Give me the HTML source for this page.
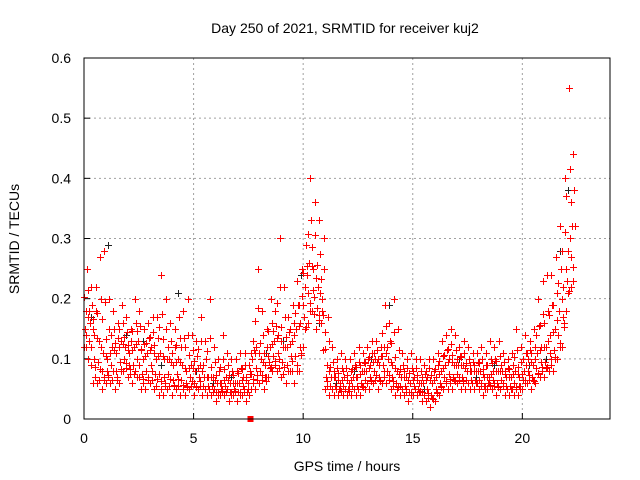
<!DOCTYPE html>
<html><head><meta charset="utf-8"><style>
body{margin:0;background:#fff;}
svg{display:block;font-family:"Liberation Sans",sans-serif;}
</style></head><body>
<svg id="chart" width="640" height="480" viewBox="0 0 640 480">
<rect width="640" height="480" fill="#fff"/>
<text x="345" y="33" font-size="14" text-anchor="middle" fill="#000">Day 250 of 2021, SRMTID for receiver kuj2</text>
<text x="347" y="471" font-size="14" text-anchor="middle" fill="#000">GPS time / hours</text>
<text transform="translate(19,239) rotate(-90)" font-size="14" text-anchor="middle" fill="#000">SRMTID / TECUs</text>
<g id="grid"></g>
<g id="ticks"></g>
<g id="pts" shape-rendering="crispEdges"></g>
<rect x="84" y="58" width="526" height="361" fill="none" stroke="#000" stroke-width="1"/>
</svg>
<script>
const xTicks=[0,5,10,15,20];
const yTicks=[0,0.1,0.2,0.3,0.4,0.5,0.6];
const yTickLabels=["0","0.1","0.2","0.3","0.4","0.5","0.6"];
const times=[0,0.2,0.4,0.6,0.8,1,1.2,1.4,1.6,1.8,2,2.2,2.4,2.6,2.8,3,3.2,3.4,3.6,3.8,4,4.2,4.4,4.6,4.8,5,5.2,5.4,5.6,5.8,6,6.2,6.4,6.6,6.8,7,7.2,7.4,7.6,7.8,8,8.2,8.4,8.6,8.8,9,9.2,9.4,9.6,9.8,10,10.2,10.4,10.6,10.8,11,11.2,11.4,11.6,11.8,12,12.2,12.4,12.6,12.8,13,13.2,13.4,13.6,13.8,14,14.2,14.4,14.6,14.8,15,15.2,15.4,15.6,15.8,16,16.2,16.4,16.6,16.8,17,17.2,17.4,17.6,17.8,18,18.2,18.4,18.6,18.8,19,19.2,19.4,19.6,19.8,20,20.2,20.4,20.6,20.8,21,21.2,21.4,21.6,21.8,22,22.2];
const redLow=[0.12,0.10,0.06,0.06,0.05,0.06,0.06,0.05,0.06,0.08,0.07,0.06,0.07,0.05,0.05,0.06,0.05,0.04,0.04,0.05,0.04,0.05,0.04,0.04,0.05,0.04,0.05,0.04,0.04,0.04,0.03,0.04,0.04,0.03,0.04,0.03,0.04,0.03,0.05,0.05,0.06,0.05,0.07,0.08,0.08,0.07,0.06,0.08,0.06,0.08,0.12,0.16,0.18,0.15,0.16,0.05,0.04,0.04,0.04,0.04,0.04,0.04,0.04,0.04,0.05,0.05,0.06,0.05,0.06,0.06,0.05,0.04,0.04,0.04,0.03,0.04,0.04,0.03,0.03,0.02,0.03,0.04,0.05,0.05,0.05,0.06,0.05,0.05,0.05,0.05,0.05,0.04,0.05,0.05,0.04,0.05,0.04,0.04,0.04,0.04,0.05,0.06,0.05,0.06,0.07,0.07,0.08,0.08,0.10,0.12,0.18,0.22];
const redMid=[0.18,0.16,0.14,0.13,0.11,0.10,0.12,0.11,0.13,0.12,0.11,0.12,0.13,0.10,0.11,0.12,0.10,0.11,0.10,0.10,0.09,0.10,0.09,0.08,0.09,0.08,0.09,0.07,0.07,0.07,0.06,0.06,0.07,0.06,0.06,0.06,0.07,0.06,0.10,0.12,0.10,0.09,0.12,0.13,0.14,0.12,0.12,0.13,0.15,0.16,0.22,0.26,0.25,0.22,0.20,0.09,0.07,0.07,0.06,0.07,0.06,0.07,0.07,0.08,0.08,0.09,0.10,0.09,0.12,0.10,0.09,0.08,0.07,0.07,0.06,0.07,0.06,0.06,0.07,0.06,0.07,0.08,0.09,0.10,0.09,0.09,0.09,0.08,0.08,0.08,0.08,0.07,0.07,0.08,0.08,0.08,0.07,0.07,0.08,0.07,0.08,0.10,0.09,0.11,0.12,0.12,0.14,0.15,0.18,0.22,0.28,0.32];
const redHigh=[0.25,0.22,0.22,0.27,0.28,0.20,0.18,0.16,0.19,0.17,0.15,0.20,0.18,0.15,0.16,0.17,0.17,0.24,0.20,0.16,0.15,0.17,0.18,0.20,0.14,0.13,0.17,0.13,0.20,0.12,0.10,0.14,0.11,0.10,0.10,0.11,0.11,0.09,0.13,0.25,0.18,0.15,0.20,0.18,0.30,0.22,0.17,0.19,0.23,0.25,0.29,0.40,0.36,0.33,0.30,0.17,0.12,0.10,0.11,0.10,0.10,0.11,0.12,0.11,0.12,0.13,0.13,0.12,0.19,0.16,0.20,0.15,0.11,0.10,0.11,0.10,0.10,0.09,0.10,0.10,0.11,0.13,0.14,0.15,0.14,0.12,0.13,0.12,0.11,0.11,0.12,0.11,0.13,0.12,0.13,0.11,0.10,0.11,0.15,0.12,0.14,0.13,0.15,0.20,0.23,0.24,0.24,0.27,0.32,0.40,0.55,0.44];
const blackTimes=[0.3,1.1,1.9,2.7,3.5,4.3,5.1,5.9,6.7,7.5,8.3,9.1,9.9,10.7,11.5,12.3,13.1,13.9,14.7,15.5,16.3,17.1,17.9,18.7,19.5,20.3,21.1,21.7,22.1];
const blackVals=[0.17,0.29,0.14,0.13,0.09,0.21,0.08,0.06,0.07,0.05,0.11,0.13,0.24,0.16,0.06,0.08,0.10,0.19,0.07,0.05,0.08,0.10,0.07,0.09,0.05,0.09,0.10,0.28,0.38];
const X=t=>84+t*(526/24);
const Y=v=>419-v*(361/0.6);
const ns="http://www.w3.org/2000/svg";
const grid=document.getElementById('grid'),ticks=document.getElementById('ticks'),pts=document.getElementById('pts');
function mk(tag,attrs,parent){const e=document.createElementNS(ns,tag);for(const k in attrs)e.setAttribute(k,attrs[k]);parent.appendChild(e);return e;}
xTicks.forEach(t=>{
  if(t>0){const g=mk('line',{x1:X(t),x2:X(t),y1:58,y2:419,stroke:'#a0a0a0','stroke-dasharray':'2,3'},grid);
  
  }
  const l=mk('text',{x:X(t),y:443,'font-size':14,'text-anchor':'middle'},ticks);l.textContent=t;
  
  
  mk('line',{x1:X(t),x2:X(t),y1:419,y2:413,stroke:'#000'},ticks);
});
yTicks.forEach((v,i)=>{
  if(v>0&&v<0.6){const g=mk('line',{x1:84,x2:610,y1:Y(v),y2:Y(v),stroke:'#a0a0a0','stroke-dasharray':'2,3'},grid);
  
  }
  const l=mk('text',{x:71,y:Y(v)+5,'font-size':14,'text-anchor':'end'},ticks);l.textContent=yTickLabels[i];
  
  
  mk('line',{x1:84,x2:90,y1:Y(v),y2:Y(v),stroke:'#000'},ticks);
});
function plus(t,v,c){const x=Math.round(X(t))+0.5,y=Math.round(Y(v))+0.5;
  const p=mk('path',{d:`M${x-3.5} ${y}H${x+3.5}M${x} ${y-3.5}V${y+3.5}`,stroke:c,'stroke-width':1,fill:'none'},pts);
  
  }
blackTimes.forEach((t,i)=>plus(t,blackVals[i],'#222'));
const series=[[redLow,0.0],[redMid,0.07],[redHigh,0.13]];
times.forEach((t,i)=>{
  const j=Math.min(i+1,times.length-1);
  plus(t,redLow[i],'#f00');
  plus(t+0.07,redMid[i],'#f00');
  plus(t+0.13,redHigh[i],'#f00');
  plus(t+0.16,(redMid[i]+redHigh[i])/2,'#f00');
  plus(t+0.04,(redLow[i]+redMid[i])/2,'#f00');
  plus(t+0.1,(redLow[i]+redLow[j])/2+0.01,'#f00');
  plus(t+0.19,(redMid[i]+redMid[j])/2,'#f00');
  plus(t+0.01,(redMid[i]*2+redHigh[i])/3,'#f00');
  plus(t+0.11,(redLow[i]*2+redMid[i])/3,'#f00');
});
const sq=mk('rect',{x:X(7.6)-3,y:416,width:6,height:6,fill:'#f00'},pts);


</script>
</body></html>
